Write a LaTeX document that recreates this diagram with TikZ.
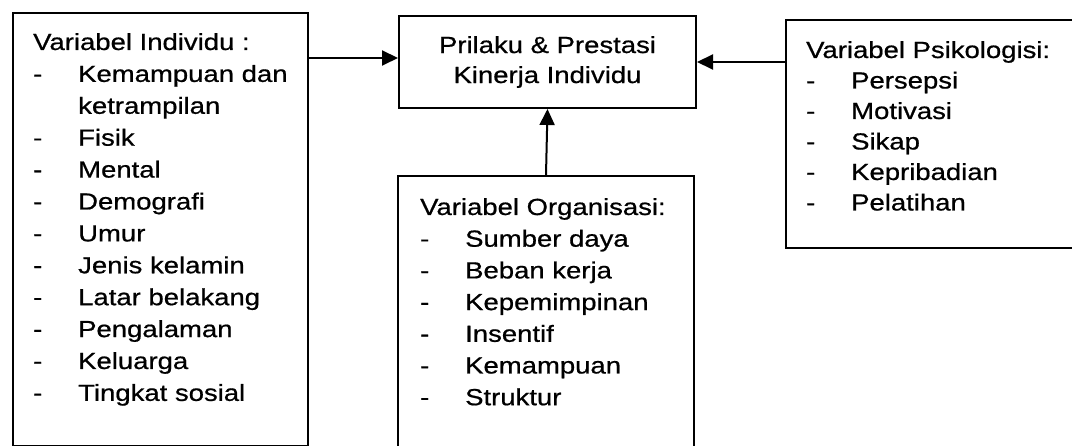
\documentclass[tikz,border=0pt]{standalone}
\usepackage{fontspec}
\setmainfont{Liberation Sans}[FakeStretch=1.18,FakeBold=0.7]
\usetikzlibrary{arrows.meta}
\newcommand\itmL[1]{\hbox{\makebox[45pt][l]{-}#1}}
\newcommand\itmC[1]{\hbox{\hspace*{45pt}#1}}
\begin{document}
\begin{tikzpicture}[x=1pt,y=-1pt,
  box/.style={draw=black,line width=2pt,rectangle,inner sep=0pt,anchor=north west},
  txt/.style={inner sep=0pt,anchor=base west,font=\fontsize{23.3}{31.9}\selectfont},
  arr/.style={line width=2pt,-{Triangle[length=16pt,width=15pt]}}]
\useasboundingbox (0,0) rectangle (1072,446);
% boxes
\node[box,minimum width=295pt,minimum height=433pt] (indiv) at (12,12) {};
\node[box,minimum width=297pt,minimum height=92pt] (prk) at (398,15) {};
\node[box,minimum width=296pt,minimum height=290pt] (org) at (397,175) {};
\node[box,minimum width=300pt,minimum height=228pt] (psi) at (785,19) {};
% texts
\node[txt] (tindiv) at (33,50) {\vtop{\baselineskip=31.9pt
  \hbox{Variabel Individu :}
  \itmL{Kemampuan dan}
  \itmC{ketrampilan}
  \itmL{Fisik}
  \itmL{Mental}
  \itmL{Demografi}
  \itmL{Umur}
  \itmL{Jenis kelamin}
  \itmL{Latar belakang}
  \itmL{Pengalaman}
  \itmL{Keluarga}
  \itmL{Tingkat sosial}}};
\node[txt,anchor=center,align=center,font=\fontsize{23.3}{30}\selectfont] (tprk) at (prk.center) {Prilaku \& Prestasi\\Kinerja Individu};
\node[txt] (torg) at (420,215) {\vtop{\baselineskip=31.7pt
  \hbox{Variabel Organisasi:}
  \itmL{Sumber daya}
  \itmL{Beban kerja}
  \itmL{Kepemimpinan}
  \itmL{Insentif}
  \itmL{Kemampuan}
  \itmL{Struktur}}};
\node[txt] (tpsi) at (806,58) {\vtop{\baselineskip=30.5pt
  \hbox{Variabel Psikologisi:}
  \itmL{Persepsi}
  \itmL{Motivasi}
  \itmL{Sikap}
  \itmL{Kepribadian}
  \itmL{Pelatihan}}};
% arrows
\draw[arr] (indiv.east |- 0,58) -- (prk.west |- 0,58);
\draw[arr] (psi.west |- 0,62) -- (prk.east |- 0,62);
\draw[arr] (org.north) -- (prk.south);
\end{tikzpicture}
\end{document}
